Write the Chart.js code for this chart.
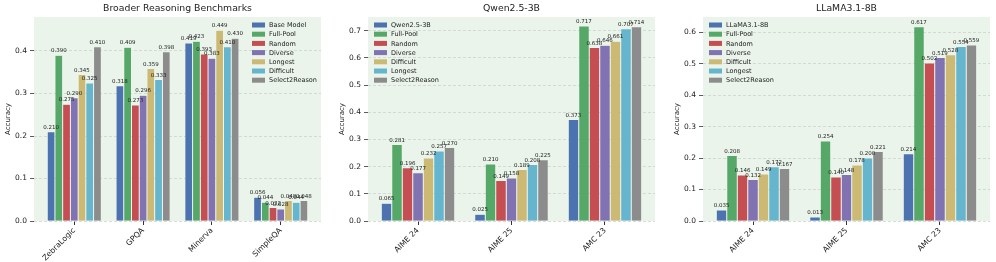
<!DOCTYPE html>
<html>
<head>
<meta charset="utf-8">
<script src="https://cdn.jsdelivr.net/npm/chart.js@4.4.0/dist/chart.umd.min.js"></script>
<style>
  body { margin: 0; background: #fff; width: 996px; height: 262px; overflow: hidden; position: relative; }
  .panel { position: absolute; top: 0; }
</style>
</head>
<body>
<div class="panel" style="left:0"><canvas id="benchChart" width="332" height="262"></canvas></div>
<div class="panel" style="left:334px"><canvas id="qwenChart" width="330" height="262"></canvas></div>
<div class="panel" style="left:669px"><canvas id="llamaChart" width="327" height="262"></canvas></div>
<script>
// Broader reasoning benchmarks
const benchCategories = ['ZebraLogic', 'GPQA', 'Minerva', 'SimpleQA'];
const benchSeries = ['Base Model', 'Full-Pool', 'Random', 'Diverse', 'Longest', 'Difficult', 'Select2Reason'];
const benchValues = [
    [0.210, 0.318, 0.419, 0.056],
    [0.390, 0.409, 0.423, 0.044],
    [0.275, 0.273, 0.393, 0.032],
    [0.290, 0.296, 0.383, 0.028],
    [0.345, 0.359, 0.449, 0.048],
    [0.325, 0.333, 0.410, 0.044],
    [0.410, 0.398, 0.430, 0.048]
];

// Qwen2.5-3B
const qwenCategories = ['AIME 24', 'AIME 25', 'AMC 23'];
const qwenSeries = ['Qwen2.5-3B', 'Full-Pool', 'Random', 'Diverse', 'Difficult', 'Longest', 'Select2Reason'];
const qwenValues = [
    [0.065, 0.025, 0.373],
    [0.281, 0.210, 0.717],
    [0.196, 0.149, 0.638],
    [0.177, 0.158, 0.646],
    [0.232, 0.189, 0.661],
    [0.257, 0.208, 0.707],
    [0.270, 0.225, 0.714]
];

// LLaMA3.1-8B
const llamaCategories = ['AIME 24', 'AIME 25', 'AMC 23'];
const llamaSeries = ['LLaMA3.1-8B', 'Full-Pool', 'Random', 'Diverse', 'Difficult', 'Longest', 'Select2Reason'];
const llamaValues = [
    [0.035, 0.013, 0.214],
    [0.208, 0.254, 0.617],
    [0.146, 0.140, 0.502],
    [0.132, 0.148, 0.519],
    [0.149, 0.178, 0.528],
    [0.172, 0.200, 0.554],
    [0.167, 0.221, 0.559]
];

const palette = ['#4c72b0', '#55a868', '#c44e52', '#8172b2', '#ccb974', '#64b5cd', '#8c8c8c'];
const FONT = "'DejaVu Sans', sans-serif";

// light green plot background
const plotBg = {
    id: 'plotBg',
    beforeDraw(chart) {
        const { ctx, chartArea: a } = chart;
        ctx.save();
        ctx.fillStyle = '#eaf4ea';
        ctx.fillRect(a.left, a.top, a.right - a.left, a.bottom - a.top);
        ctx.restore();
    }
};

// value labels above bars
const barLabels = {
    id: 'barLabels',
    afterDatasetsDraw(chart) {
        const ctx = chart.ctx;
        ctx.save();
        ctx.font = '5.5px ' + FONT;
        ctx.fillStyle = '#222';
        ctx.textAlign = 'center';
        ctx.textBaseline = 'bottom';
        chart.data.datasets.forEach((ds, i) => {
            chart.getDatasetMeta(i).data.forEach((bar, j) => {
                ctx.fillText(ds.data[j].y.toFixed(3), bar.x, bar.y - 1.5);
            });
        });
        ctx.restore();
    }
};

// title centred over the plot area, legend inside it
const panelDecor = {
    id: 'panelDecor',
    afterDraw(chart, args, opts) {
        const { ctx, chartArea: a } = chart;
        ctx.save();
        ctx.fillStyle = '#222';
        ctx.font = '9.3px ' + FONT;
        ctx.textAlign = 'center';
        ctx.textBaseline = 'middle';
        ctx.fillText(opts.title, (a.left + a.right) / 2, 9);

        ctx.font = '6.5px ' + FONT;
        ctx.textAlign = 'left';
        chart.data.datasets.forEach((ds, i) => {
            const y = 25 + i * 9.2;
            ctx.fillStyle = ds.backgroundColor;
            ctx.fillRect(opts.legendX, y - 2.5, 13, 5);
            ctx.fillStyle = '#222';
            ctx.fillText(ds.label, opts.legendX + 17, y + 0.5);
        });
        ctx.restore();
    }
};

function makePanel(id, title, categories, series, values, xPad, yMax, padRight, legendX) {
    const datasets = series.map((name, i) => ({
        label: name,
        data: values[i].map((v, j) => ({ x: j, y: v })),
        backgroundColor: palette[i],
        borderColor: 'rgba(255,255,255,0.45)',
        borderWidth: 0.5,
        categoryPercentage: 0.786,
        barPercentage: 1.0
    }));

    new Chart(document.getElementById(id), {
        type: 'bar',
        data: { datasets: datasets },
        plugins: [plotBg, barLabels, panelDecor],
        options: {
            responsive: false,
            animation: false,
            devicePixelRatio: 1,
            layout: { padding: { top: 17, right: padRight, left: 0, bottom: 0 } },
            plugins: {
                legend: { display: false },
                tooltip: { enabled: false },
                panelDecor: { title: title, legendX: legendX }
            },
            scales: {
                x: {
                    type: 'linear',
                    offset: false,
                    min: -xPad,
                    max: categories.length - 1 + xPad,
                    afterBuildTicks: (scale) => {
                        scale.ticks = categories.map((c, i) => ({ value: i }));
                    },
                    afterFit: (scale) => { scale.height = 41; },
                    grid: { display: true, drawOnChartArea: false, offset: false, tickLength: 4, tickColor: '#333' },
                    border: { display: false },
                    ticks: {
                        autoSkip: false,
                        minRotation: 45,
                        maxRotation: 45,
                        padding: 1,
                        color: '#222',
                        font: { family: FONT, size: 7.7 },
                        callback: (v) => categories[Math.round(v)]
                    }
                },
                y: {
                    min: 0,
                    max: yMax,
                    afterBuildTicks: (scale) => {
                        scale.ticks = scale.ticks.filter(t => Math.abs(t.value * 10 - Math.round(t.value * 10)) < 1e-6);
                    },
                    afterFit: (scale) => { scale.width = 34; },
                    grid: { color: '#c8cfc8', lineWidth: 0.7, tickLength: 4, tickColor: '#333', tickWidth: 0.8 },
                    border: { display: false, dash: [3, 2] },
                    title: {
                        display: true,
                        text: 'Accuracy',
                        color: '#222',
                        font: { family: FONT, size: 7 },
                        padding: { top: 4, bottom: 0 }
                    },
                    ticks: {
                        stepSize: 0.1,
                        padding: 3,
                        color: '#222',
                        font: { family: FONT, size: 7.5 },
                        callback: (v) => v.toFixed(1)
                    }
                }
            }
        }
    });
}

makePanel('benchChart', 'Broader Reasoning Benchmarks', benchCategories, benchSeries, benchValues, 0.585, 0.48, 11, 252);
makePanel('qwenChart', 'Qwen2.5-3B', qwenCategories, qwenSeries, qwenValues, 0.535, 0.75, 9, 40);
makePanel('llamaChart', 'LLaMA3.1-8B', llamaCategories, llamaSeries, llamaValues, 0.535, 0.648, 6, 40);
</script>
</body>
</html>
